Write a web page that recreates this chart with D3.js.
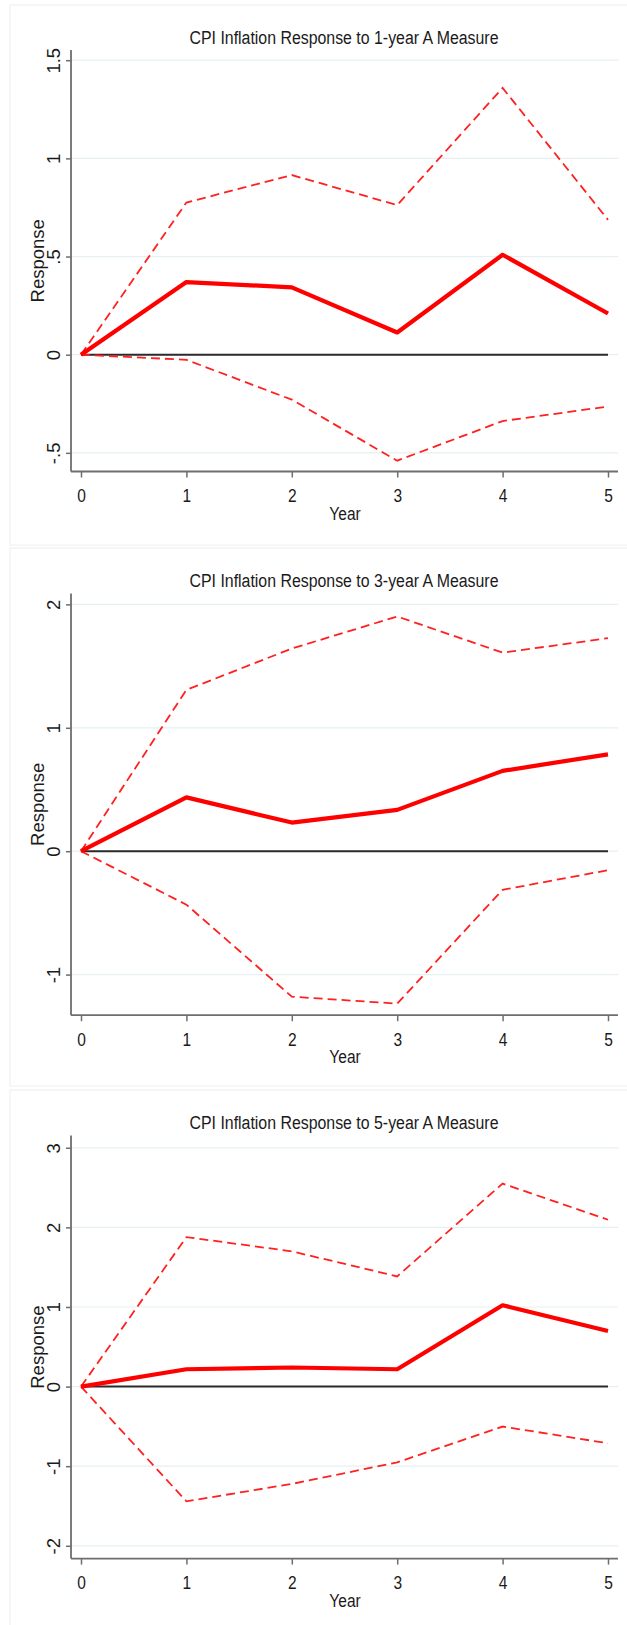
<!DOCTYPE html>
<html>
<head>
<meta charset="utf-8">
<script src="https://cdn.jsdelivr.net/npm/d3@7"></script>
<style>
  body { margin: 0; background: #fff; }
  svg { display: block; }
  text { font-family: "Liberation Sans", Arial, sans-serif; fill: #1a1a1a; }
</style>
</head>
<body>
<svg id="chart" width="627" height="1625"></svg>
<script>
// horizon (years after the shock)
var years = [0, 1, 2, 3, 4, 5];

// panel titles
var titles = [
    "CPI Inflation Response to 1-year A Measure",
    "CPI Inflation Response to 3-year A Measure",
    "CPI Inflation Response to 5-year A Measure"
];

// impulse responses
var resp1  = [0, 0.37, 0.343, 0.113, 0.509, 0.21];
var upper1 = [0, 0.775, 0.915, 0.762, 1.359, 0.687];
var lower1 = [0, -0.026, -0.229, -0.54, -0.338, -0.264];

var resp3  = [0, 0.436, 0.232, 0.335, 0.651, 0.785];
var upper3 = [0, 1.307, 1.642, 1.902, 1.609, 1.726];
var lower3 = [0, -0.433, -1.179, -1.235, -0.313, -0.154];

var resp5  = [0, 0.218, 0.24, 0.218, 1.022, 0.699];
var upper5 = [0, 1.878, 1.699, 1.384, 2.55, 2.096];
var lower5 = [0, -1.441, -1.223, -0.952, -0.502, -0.712];

// y tick values and their labels (Stata style)
var yTicks1 = [-0.5, 0, 0.5, 1, 1.5];
var yLabels1 = ["-.5", "0", ".5", "1", "1.5"];
var yTicks3 = [-1, 0, 1, 2];
var yLabels3 = ["-1", "0", "1", "2"];
var yTicks5 = [-2, -1, 0, 1, 2, 3];
var yLabels5 = ["-2", "-1", "0", "1", "2", "3"];

var panels = [
    {title: titles[0], resp: resp1, upper: upper1, lower: lower1, ticks: yTicks1, labels: yLabels1,
     frameTop: 5, frameBottom: 545, axisTop: 50, axisBottom: 471.5, yDomain: [-0.595, 1.552]},
    {title: titles[1], resp: resp3, upper: upper3, lower: lower3, ticks: yTicks3, labels: yLabels3,
     frameTop: 548, frameBottom: 1086, axisTop: 593.4, axisBottom: 1015.2, yDomain: [-1.329, 2.089]},
    {title: titles[2], resp: resp5, upper: upper5, lower: lower5, ticks: yTicks5, labels: yLabels5,
     frameTop: 1090, frameBottom: 1640, axisTop: 1135.6, axisBottom: 1558.6, yDomain: [-2.161, 3.153]}
];

var svg = d3.select("#chart");
var axisLeft = 71, axisRight = 618;
var x = d3.scaleLinear().domain([0, 5]).range([81, 608]);
var squeeze = 0.84;

panels.forEach(drawPanel);

function drawPanel(p)
{
    var g = svg.append("g");
    var y = d3.scaleLinear().domain(p.yDomain).range([p.axisBottom, p.axisTop]);

    //graph region frame
    g.append("rect")
        .attr("x", 10).attr("y", p.frameTop)
        .attr("width", 640).attr("height", p.frameBottom - p.frameTop)
        .attr("fill", "#fff").attr("stroke", "#eeeeee").attr("stroke-width", 1);

    //title
    g.append("text")
        .attr("x", 344).attr("y", p.frameTop + 38.5)
        .attr("text-anchor", "middle")
        .attr("font-size", 18)
        .attr("textLength", 309).attr("lengthAdjust", "spacingAndGlyphs")
        .text(p.title);

    //gridlines
    g.selectAll(".grid")
        .data(p.ticks)
        .enter().append("line")
        .attr("x1", axisLeft).attr("x2", axisRight)
        .attr("y1", function(d) { return y(d); })
        .attr("y2", function(d) { return y(d); })
        .attr("stroke", "#e6eff1").attr("stroke-width", 1.2);

    //y axis
    var yAxis = d3.axisLeft(y).tickValues(p.ticks).tickSize(5).tickFormat(function(d, i) { return p.labels[i]; });
    var ya = g.append("g").attr("transform", "translate(" + axisLeft + ",0)").call(yAxis);
    ya.select(".domain").remove();
    ya.selectAll(".tick line").attr("stroke", "#6e6e6e").attr("stroke-width", 1.5);
    ya.selectAll(".tick text")
        .attr("font-size", 18.5).attr("fill", "#1a1a1a")
        .attr("x", 0).attr("dy", 0).attr("y", 0)
        .attr("text-anchor", "middle")
        .attr("transform", "translate(-11,0) rotate(-90)");
    g.append("line")
        .attr("x1", axisLeft).attr("x2", axisLeft)
        .attr("y1", p.axisTop).attr("y2", p.axisBottom)
        .attr("stroke", "#6e6e6e").attr("stroke-width", 1.8);

    //x axis
    var xAxis = d3.axisBottom(x).tickValues(years).tickSize(6).tickFormat(d3.format("d"));
    var xa = g.append("g").attr("transform", "translate(0," + p.axisBottom + ")").call(xAxis);
    xa.select(".domain").remove();
    xa.selectAll(".tick line").attr("stroke", "#6e6e6e").attr("stroke-width", 1.5);
    xa.selectAll(".tick text")
        .attr("font-size", 18.5).attr("fill", "#1a1a1a")
        .attr("y", 0).attr("dy", 0)
        .attr("transform", "translate(0,30.5) scale(" + squeeze + ",1)");
    g.append("line")
        .attr("x1", axisLeft).attr("x2", axisRight)
        .attr("y1", p.axisBottom).attr("y2", p.axisBottom)
        .attr("stroke", "#6e6e6e").attr("stroke-width", 1.8);

    //axis titles
    g.append("text")
        .attr("text-anchor", "middle").attr("font-size", 18.5)
        .attr("transform", "translate(345," + (p.axisBottom + 48) + ") scale(" + squeeze + ",1)")
        .text("Year");
    g.append("text")
        .attr("text-anchor", "middle").attr("font-size", 18.5)
        .attr("transform", "translate(44," + ((p.axisTop + p.axisBottom) / 2) + ") rotate(-90)")
        .text("Response");

    //zero line
    g.append("line")
        .attr("x1", x(0)).attr("x2", x(5))
        .attr("y1", y(0)).attr("y2", y(0))
        .attr("stroke", "#2a2a2a").attr("stroke-width", 2);

    var line = d3.line()
        .x(function(d, i) { return x(years[i]); })
        .y(function(d) { return y(d); });

    //confidence bands
    [p.upper, p.lower].forEach(function(band) {
        g.append("path")
            .attr("d", line(band))
            .attr("fill", "none")
            .attr("stroke", "#ff2020").attr("stroke-width", 1.8)
            .attr("stroke-dasharray", "9,5");
    });

    //point estimate
    g.append("path")
        .attr("d", line(p.resp))
        .attr("fill", "none")
        .attr("stroke", "#ff0000").attr("stroke-width", 4.2)
        .attr("stroke-linejoin", "round");
}
</script>
</body>
</html>
